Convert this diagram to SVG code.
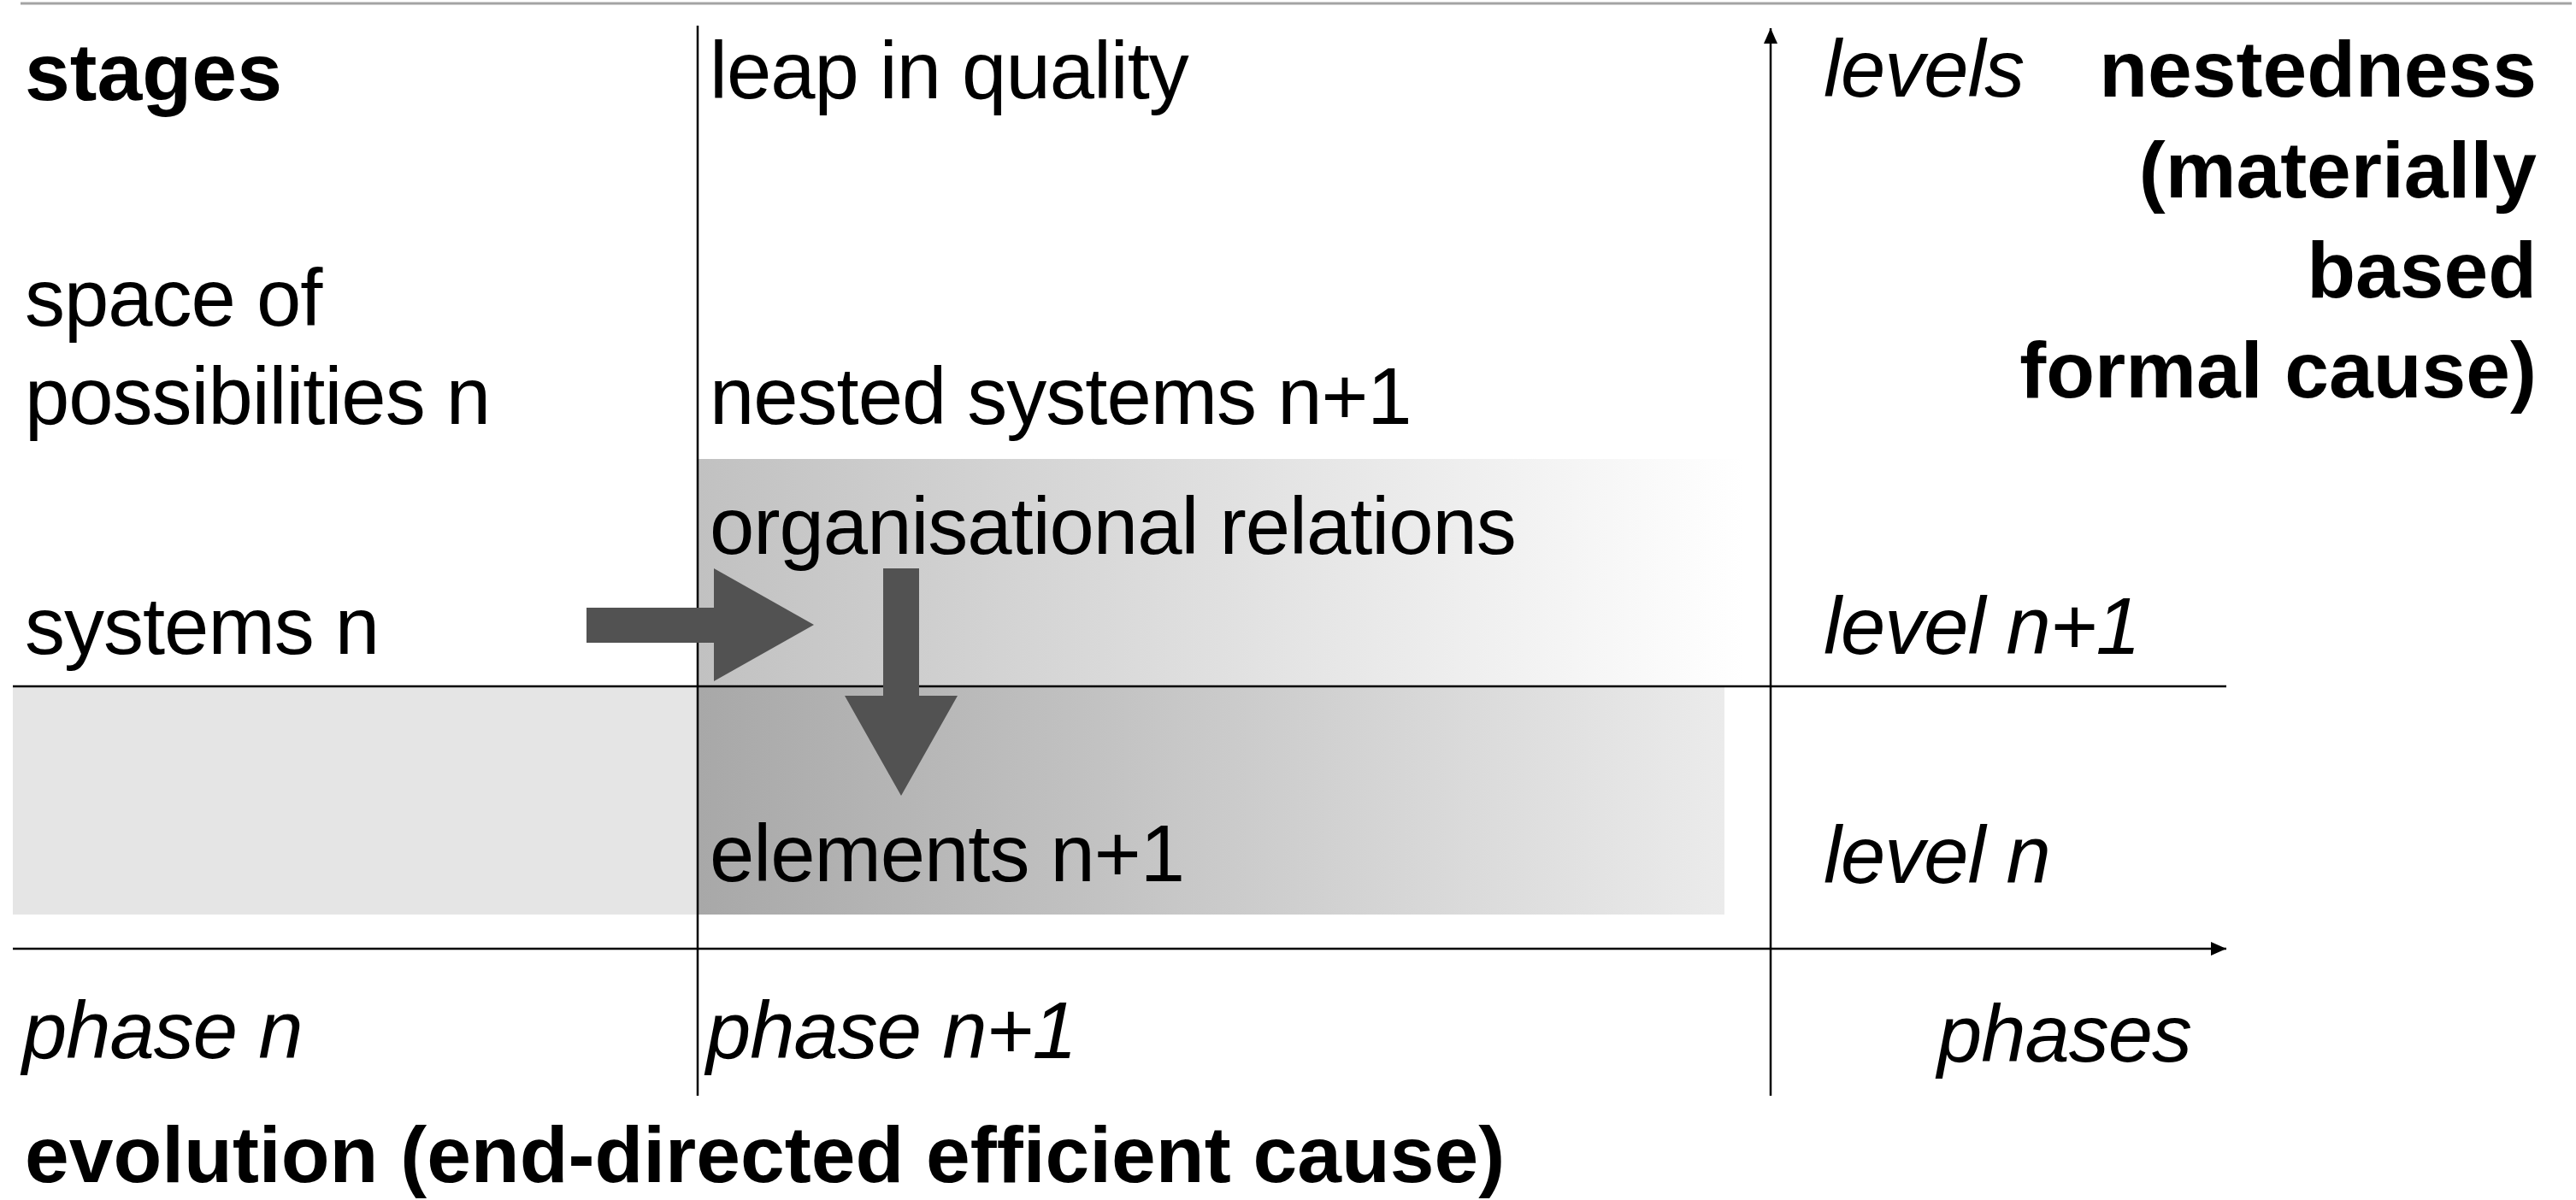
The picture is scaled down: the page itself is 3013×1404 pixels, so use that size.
<svg xmlns="http://www.w3.org/2000/svg" width="3013" height="1404" viewBox="0 0 3013 1404">
<style>
  .t { font-family: "Liberation Sans", Arial, sans-serif; font-size: 94px; fill: #000; letter-spacing: -1px; }
  .i { font-style: italic; }
  .b { font-weight: bold; font-size: 93px; letter-spacing: 0; }
  .ax { stroke: #000; stroke-width: 2.5; fill: none; }
  .arr { fill: #525252; }
</style>
<defs>
  <linearGradient id="gUp" x1="0" y1="0" x2="1" y2="0">
    <stop offset="0" stop-color="#c1c1c1"/>
    <stop offset="1" stop-color="#ffffff"/>
  </linearGradient>
  <linearGradient id="gLow" x1="0" y1="0" x2="1" y2="0">
    <stop offset="0" stop-color="#a8a8a8"/>
    <stop offset="1" stop-color="#ebebeb"/>
  </linearGradient>
  <marker id="ah" markerWidth="18" markerHeight="16" refX="18" refY="8" orient="auto" markerUnits="userSpaceOnUse">
    <path d="M0,0 L18,8 L0,16 Z" fill="#000"/>
  </marker>
</defs>
<rect width="3013" height="1404" fill="#fff"/>
<g id="bands">
  <rect x="15" y="803" width="801" height="267" fill="#e5e5e5"/>
  <rect x="816" y="537" width="1224" height="266" fill="url(#gUp)"/>
  <rect x="816" y="803" width="1201" height="267" fill="url(#gLow)"/>
</g>
<g id="connectors">
  <line x1="24" y1="4" x2="3008" y2="4" stroke="#a3a3a3" stroke-width="3"/>
  <line class="ax" x1="816" y1="30" x2="816" y2="1282"/>
  <line class="ax" x1="2071" y1="1282" x2="2071" y2="33" marker-end="url(#ah)"/>
  <line class="ax" x1="15" y1="803" x2="2604" y2="803"/>
  <line class="ax" x1="15" y1="1110" x2="2604" y2="1110" marker-end="url(#ah)"/>
  <polygon id="arrow-right" class="arr" points="686,711 835,711 835,665 952,731 835,797 835,752 686,752"/>
  <polygon id="arrow-down" class="arr" points="1033,665 1075,665 1075,814 1120,814 1054,931 988,814 1033,814"/>
</g>
<g id="stages"><text class="t b" x="29" y="117" style="font-size:95px">stages</text></g>
<g id="space"><text class="t" x="29" y="381">space of</text><text class="t" x="29" y="496">possibilities n</text></g>
<g id="systems-n"><text class="t" x="29" y="765">systems n</text></g>
<g id="leap"><text class="t" x="830" y="115">leap in quality</text></g>
<g id="nested"><text class="t" x="830" y="496">nested systems n+1</text></g>
<g id="org"><text class="t" x="830" y="648">organisational relations</text></g>
<g id="elements"><text class="t" x="830" y="1031">elements n+1</text></g>
<g id="levels"><text class="t i" x="2133" y="113">levels</text></g>
<g id="level-n1"><text class="t i" x="2133" y="765">level n+1</text></g>
<g id="level-n"><text class="t i" x="2133" y="1033">level n</text></g>
<g id="nestedness">
  <text class="t b" x="2967" y="113" text-anchor="end">nestedness</text>
  <text class="t b" x="2967" y="231" text-anchor="end">(materially</text>
  <text class="t b" x="2967" y="348" text-anchor="end">based</text>
  <text class="t b" x="2967" y="465" text-anchor="end">formal cause)</text>
</g>
<g id="phase-n"><text class="t i" x="26" y="1238">phase n</text></g>
<g id="phase-n1"><text class="t i" x="826" y="1238">phase n+1</text></g>
<g id="phases"><text class="t i" x="2563" y="1242" text-anchor="end">phases</text></g>
<g id="evolution"><text class="t b" x="29" y="1383">evolution (end-directed efficient cause)</text></g>
</svg>
